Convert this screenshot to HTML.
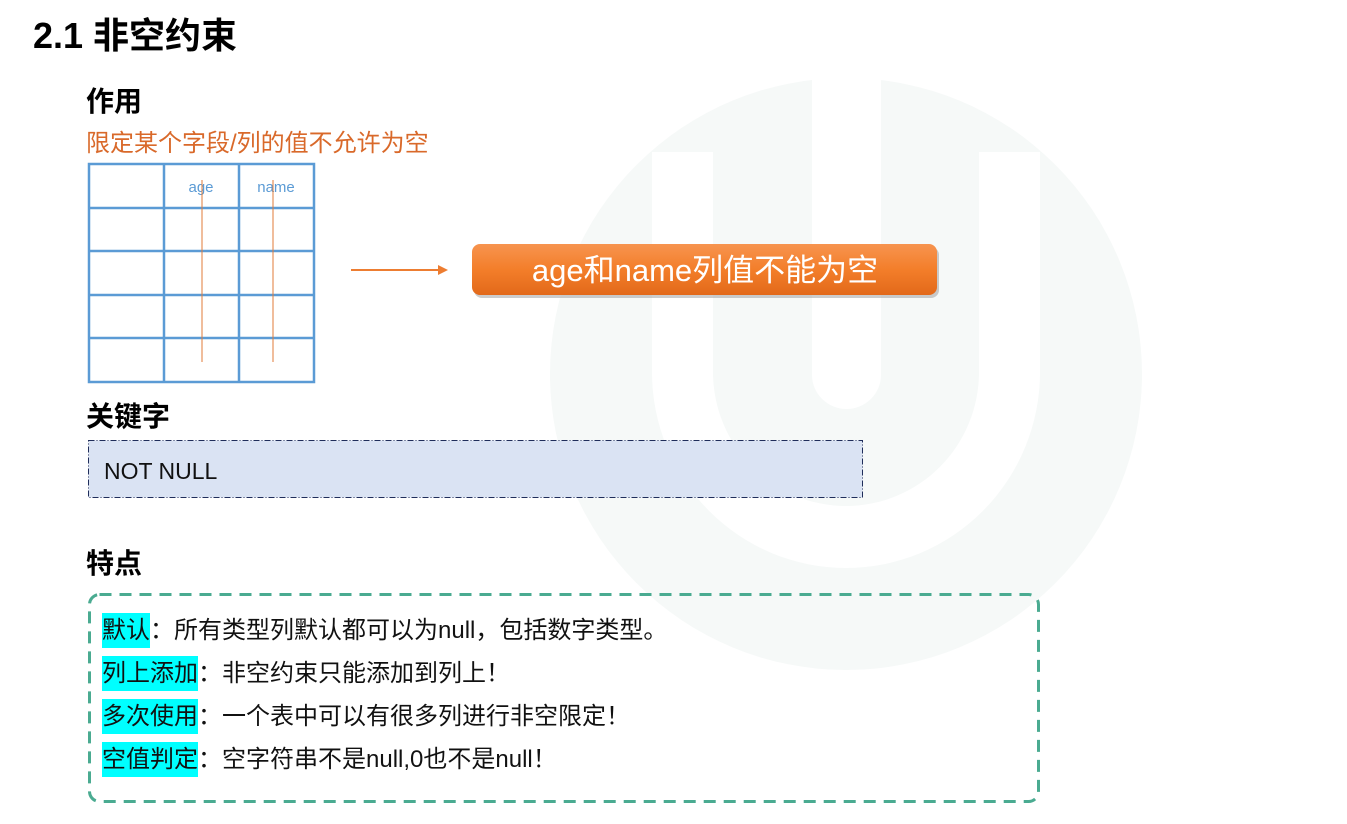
<!DOCTYPE html>
<html><head><meta charset="utf-8"><style>
body{margin:0;width:1347px;height:824px;background:#fff;position:relative;overflow:hidden;font-family:"Liberation Sans","Noto Sans CJK SC",sans-serif;}
.a{position:absolute;white-space:nowrap;}
.h{font-weight:bold;font-size:28px;color:#000;}
.row{position:absolute;left:102px;font-size:24px;color:#111;height:35px;line-height:35px;white-space:nowrap;}
.row b{font-weight:normal;background:#00ffff;display:inline-block;height:35px;line-height:35px;}
</style></head><body>
<svg class="a" style="left:0;top:0" width="1347" height="824">
 <circle cx="846" cy="374" r="296" fill="#f6f9f8"/>
 <path d="M652 152 L652 372 A194 196 0 0 0 1040 372 L1040 152 Z" fill="#fff"/>
 <path d="M713 118 Q740 106 780 100 L910 100 Q950 106 979 118 L979 372 A133 134 0 0 1 713 372 Z" fill="#f6f9f8"/>
 <path d="M812 78 L881 78 L881 375 A34.5 34 0 0 1 812 375 Z" fill="#fff"/>
 <g stroke="#5b9bd5" stroke-width="2.5" fill="none">
  <rect x="89" y="164" width="225" height="218"/>
  <line x1="164" y1="164" x2="164" y2="382"/><line x1="239" y1="164" x2="239" y2="382"/>
  <line x1="89" y1="208" x2="314" y2="208"/><line x1="89" y1="251" x2="314" y2="251"/>
  <line x1="89" y1="295" x2="314" y2="295"/><line x1="89" y1="338" x2="314" y2="338"/>
 </g>
 <text x="201" y="192" font-size="15" fill="#5b9bd5" text-anchor="middle" font-family="Liberation Sans,sans-serif">age</text>
 <text x="276" y="192" font-size="15" fill="#5b9bd5" text-anchor="middle" font-family="Liberation Sans,sans-serif">name</text>
 <line x1="202" y1="180" x2="202" y2="362" stroke="#e07b39" stroke-width="1"/>
 <line x1="273" y1="180" x2="273" y2="362" stroke="#e07b39" stroke-width="1"/>
 <line x1="351" y1="270" x2="440" y2="270" stroke="#ed7d31" stroke-width="2"/>
 <polygon points="448,270 438,265 438,275" fill="#ed7d31"/>
 <defs><linearGradient id="g" x1="0" y1="0" x2="0" y2="1"><stop offset="0" stop-color="#f7944f"/><stop offset="0.5" stop-color="#f37e2a"/><stop offset="1" stop-color="#e2691a"/></linearGradient></defs>
 <rect x="474" y="247" width="465" height="51" rx="8" fill="#999" opacity="0.5"/>
 <rect x="472" y="244" width="465" height="51" rx="8" fill="url(#g)"/>
 <text x="705" y="281" font-size="31" fill="#fff" text-anchor="middle" font-family="Liberation Sans,Noto Sans CJK SC,sans-serif">age和name列值不能为空</text>
 <rect x="88.5" y="440.5" width="774" height="57" fill="#dae3f3" stroke="#1f2d5a" stroke-width="1" stroke-dasharray="6,2,1,2"/>
 <rect x="89.5" y="594.5" width="949" height="207" rx="10" fill="none" stroke="#4aab91" stroke-width="3" stroke-dasharray="12,8"/>
</svg>
<div class="a" style="left:33px;top:7px;font-size:36px;font-weight:bold;">2.1 非空约束</div>
<div class="a h" style="left:86px;top:80px;">作用</div>
<div class="a" style="left:86px;top:123px;font-size:24px;color:#d9692a;">限定某个字段/列的值不允许为空</div>
<div class="a h" style="left:86px;top:395px;">关键字</div>
<div class="a" style="left:104px;top:458px;font-size:23px;color:#111;">NOT NULL</div>
<div class="a h" style="left:86px;top:542px;">特点</div>
<div class="row" style="top:613px;"><b>默认</b>：所有类型列默认都可以为null，包括数字类型。</div>
<div class="row" style="top:656px;"><b>列上添加</b>：非空约束只能添加到列上！</div>
<div class="row" style="top:699px;"><b>多次使用</b>：一个表中可以有很多列进行非空限定！</div>
<div class="row" style="top:742px;"><b>空值判定</b>：空字符串不是null,0也不是null！</div>
</body></html>
